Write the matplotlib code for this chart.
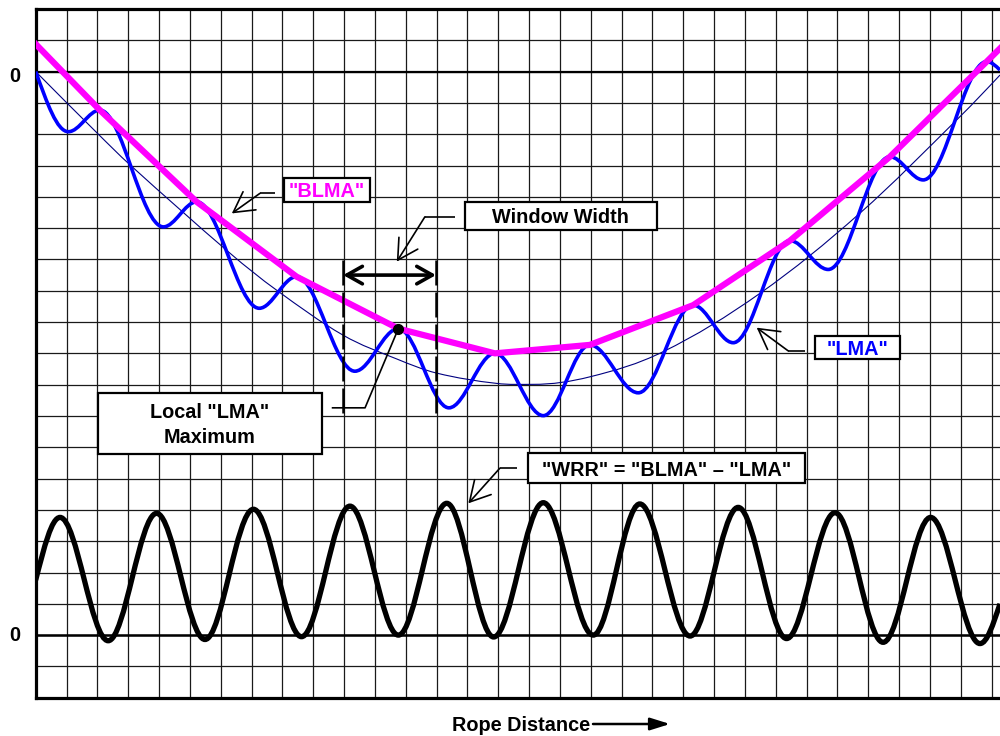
import matplotlib
matplotlib.use("Agg")
import matplotlib.pyplot as plt
import numpy as np
from matplotlib.path import Path
from matplotlib.patches import PathPatch, Rectangle, FancyArrowPatch

plt.rcParams['font.family'] = ['Liberation Sans', 'DejaVu Sans']

# x and y in grid cells; lower "0" line is y = 0, upper "0" line is y = 18
# "LMA" - local extrema of the wavy blue curve (plus the two edge points)
lma_x = [0.0, 1.06, 2.08, 4.14, 5.22, 7.25, 8.46, 10.35, 11.76, 13.40, 14.89,
         16.46, 17.97, 19.54, 21.32, 22.62, 24.46, 25.70, 27.70, 28.78, 30.84, 31.27]
lma_y = [18.0, 16.08, 16.77, 13.04, 13.84, 10.44, 11.45, 8.43, 9.79, 7.26, 9.00,
         7.01, 9.27, 7.74, 10.54, 9.34, 12.60, 11.68, 15.28, 14.54, 18.32, 18.05]

# "BLMA" - broken line through the LMA maxima
blma_x = [0.0, 2.08, 5.22, 8.46, 11.76, 14.89, 17.97, 21.32, 24.46, 27.70, 30.84, 31.27]
blma_y = [18.88, 16.77, 13.84, 11.45, 9.79, 9.00, 9.27, 10.54, 12.60, 15.28, 18.32, 18.74]

# thin underlying trend curve
trend_x = [0.0, 1.98, 3.06, 6.30, 7.81, 9.97, 11.71, 13.0, 14.95, 16.12, 17.97,
           20.34, 23.49, 26.73, 29.97, 31.27]
trend_y = [18.0, 16.05, 15.02, 12.20, 11.02, 9.58, 8.82, 8.37, 8.04, 8.01, 8.25,
           9.05, 10.92, 13.48, 16.56, 17.89]

# "WRR" = "BLMA" - "LMA", extrema of the black wave
wrr_x = [0.0, 0.79, 2.35, 3.92, 5.49, 7.06, 8.62, 10.19, 11.76, 13.33, 14.85,
         16.46, 18.08, 19.59, 21.22, 22.78, 24.35, 25.92, 27.48, 29.02, 30.62, 31.27]
wrr_y = [1.76, 3.76, -0.18, 3.89, -0.14, 4.02, -0.05, 4.12, 0.0, 4.21, -0.06,
         4.23, 0.0, 4.19, -0.03, 4.08, -0.11, 3.91, -0.23, 3.76, -0.27, 1.0]

local_max_index = 8


def smooth_path(xs, ys):
    """Bezier path through the points, flat at local extrema."""
    n = len(xs)
    s = [0.0] * n
    for i in range(1, n - 1):
        if (ys[i] - ys[i - 1]) * (ys[i + 1] - ys[i]) <= 0:
            s[i] = 0.0
        else:
            s[i] = (ys[i + 1] - ys[i - 1]) / (xs[i + 1] - xs[i - 1])
    s[0] = 1.5 * (ys[1] - ys[0]) / (xs[1] - xs[0]) - 0.5 * s[1]
    s[-1] = 1.5 * (ys[-1] - ys[-2]) / (xs[-1] - xs[-2]) - 0.5 * s[-2]
    verts = [(xs[0], ys[0])]
    codes = [Path.MOVETO]
    for i in range(n - 1):
        h = 0.35 * (xs[i + 1] - xs[i])
        verts += [(xs[i] + h, ys[i] + s[i] * h),
                  (xs[i + 1] - h, ys[i + 1] - s[i + 1] * h),
                  (xs[i + 1], ys[i + 1])]
        codes += [Path.CURVE4] * 3
    return Path(verts, codes)


def label_box(ax, x0, x1, y0, y1, text, color='black'):
    ax.add_patch(Rectangle((x0, y1), x1 - x0, y0 - y1, facecolor='white',
                           edgecolor='black', lw=1.6, zorder=6))
    ax.text((x0 + x1) / 2, (y0 + y1) / 2 - 0.06, text, ha='center', va='center',
            color=color, fontsize=14.3, fontweight='bold', zorder=7,
            linespacing=1.4)


def leader(ax, xs, ys, tip=None):
    ax.plot(xs, ys, color='black', lw=1.2, zorder=5, solid_capstyle='butt')
    if tip is not None:
        ax.annotate('', xy=tip, xytext=(xs[-1], ys[-1]),
                    arrowprops=dict(arrowstyle='->,head_length=0.9,head_width=0.5',
                                    color='black', lw=1.2, shrinkA=0, shrinkB=0,
                                    mutation_scale=16), zorder=5)


fig = plt.figure(figsize=(10, 7.36), dpi=100)
ax = fig.add_axes([0.0357, 0.052, 0.9643, 0.9358])
ax.set_xlim(0, 31.27)
ax.set_ylim(-2, 20)
ax.set_xticks(np.arange(0, 32))
ax.set_yticks(np.arange(-2, 21))
ax.tick_params(length=0, labelbottom=False, labelleft=False)
ax.grid(color='#1a1a1a', lw=0.9, zorder=0)
ax.set_axisbelow(True)
for side in ['left', 'top', 'bottom']:
    ax.spines[side].set_linewidth(2.3)
ax.spines['right'].set_visible(False)
ax.axhline(0, color='black', lw=1.8, zorder=1)
ax.axhline(18, color='black', lw=1.6, zorder=1)

# curves
ax.add_patch(PathPatch(smooth_path(trend_x, trend_y), fill=False,
                       edgecolor='#000080', lw=0.8, zorder=2))
ax.add_patch(PathPatch(smooth_path(lma_x, lma_y), fill=False,
                       edgecolor='#0000FF', lw=2.6, zorder=3))
ax.plot(blma_x, blma_y, color='#FF00FF', lw=4.5, zorder=4, solid_joinstyle='round')
ax.add_patch(PathPatch(smooth_path(wrr_x, wrr_y), fill=False,
                       edgecolor='black', lw=3.8, zorder=3))

# local maximum marker
ax.plot(lma_x[local_max_index], lma_y[local_max_index], 'o', color='black',
        ms=7, zorder=8)

# window width markers
for xv in [9.97, 12.98]:
    ax.plot([xv, xv], [11.98, 6.93], color='black', lw=1.8, dashes=(10, 2.8), zorder=5)
ax.annotate('', xy=(12.98, 11.50), xytext=(9.97, 11.50),
            arrowprops=dict(arrowstyle='<->,head_length=0.8,head_width=0.45',
                            color='black', lw=2.6, shrinkA=0, shrinkB=0,
                            mutation_scale=14), zorder=6)

# labels
label_box(ax, 8.06, 10.84, 14.61, 13.82, '"BLMA"', color='#FF00FF')
leader(ax, [7.76, 7.27], [14.11, 14.11], tip=(6.36, 13.47))

label_box(ax, 13.92, 20.14, 13.84, 12.94, 'Window Width')
leader(ax, [13.60, 12.62], [13.36, 13.36], tip=(11.71, 11.93))

label_box(ax, 2.03, 9.27, 7.74, 5.78, 'Local "LMA"\nMaximum')
leader(ax, [9.60, 10.68, lma_x[local_max_index]],
       [7.26, 7.26, lma_y[local_max_index]])

label_box(ax, 25.27, 28.03, 9.56, 8.81, '"LMA"', color='#0000FF')
leader(ax, [24.94, 24.40], [9.08, 9.08], tip=(23.38, 9.82))

label_box(ax, 15.95, 24.94, 5.81, 4.85, '"WRR" = "BLMA" \u2013 "LMA"')
leader(ax, [15.60, 15.05], [5.33, 5.33], tip=(14.03, 4.21))

# zero labels
fig.text(0.015, 0.896, '0', ha='center', va='center', fontsize=14.3, fontweight='bold')
fig.text(0.015, 0.136, '0', ha='center', va='center', fontsize=14.3, fontweight='bold')

# x axis title with arrow
fig.text(0.5208, 0.014, 'Rope Distance', ha='center', va='center',
         fontsize=14.3, fontweight='bold')
fig.patches.append(FancyArrowPatch(
    (0.593, 0.0163), (0.670, 0.0163), transform=fig.transFigure,
    arrowstyle='-|>,head_length=0.8,head_width=0.25', mutation_scale=15,
    color='black', lw=1.8, shrinkA=0, shrinkB=0))

fig.savefig('out.png', dpi=100)
